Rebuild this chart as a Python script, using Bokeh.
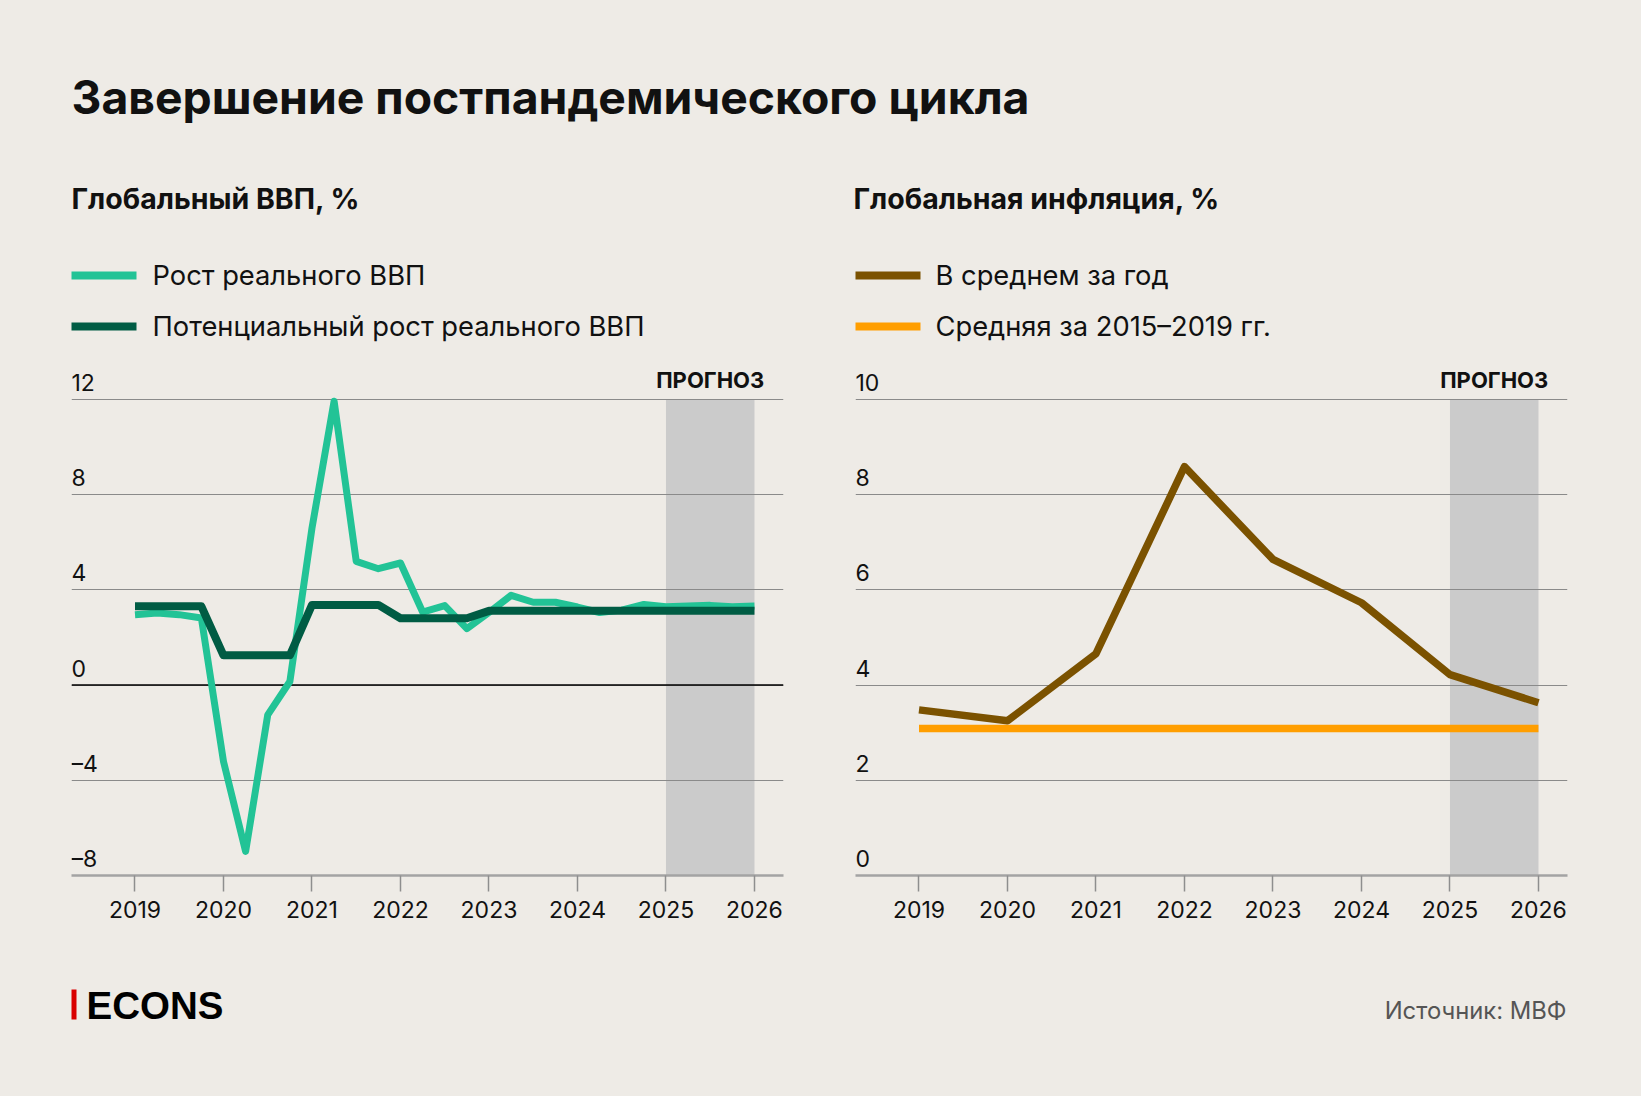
from bokeh.plotting import figure
from bokeh.models import Range1d, LabelSet, ColumnDataSource, FixedTicker, Span, Grid, BoxAnnotation
from bokeh.layouts import column, row
from bokeh.core.properties import value
from bokeh.embed import file_html
from bokeh.resources import INLINE

# ---------------- data ----------------
quarters = [2019 + i / 4 for i in range(29)]  # 2019Q1 ... 2026Q1
gdp_real = [2.96, 3.03, 2.96, 2.82, -3.21, -6.99, -1.25, 0.15,
            6.6, 11.93, 5.2, 4.89, 5.13, 3.07, 3.34, 2.37,
            3.05, 3.77, 3.48, 3.48, 3.28, 3.05, 3.15, 3.39,
            3.29, 3.32, 3.35, 3.29, 3.32]
gdp_potential = [3.31, 3.31, 3.31, 3.31, 1.25, 1.25, 1.25, 1.25,
                 3.37, 3.37, 3.37, 3.37, 2.81, 2.81, 2.81, 2.81,
                 3.12, 3.12, 3.12, 3.12, 3.12, 3.12, 3.12, 3.12,
                 3.12, 3.12, 3.12, 3.12, 3.12]

years = [2019, 2020, 2021, 2022, 2023, 2024, 2025, 2026]
inflation = [3.48, 3.25, 4.66, 8.59, 6.64, 5.73, 4.22, 3.63]
inflation_avg_2015_2019 = [3.09] * len(years)

forecast = [2025, 2026]
gdp_ticks = [-8, -4, 0, 4, 8, 12]
infl_ticks = [0, 2, 4, 6, 8, 10]

TITLE = "Завершение постпандемического цикла"
SUB_L = "Глобальный ВВП, %"
SUB_R = "Глобальная инфляция, %"
LEG_L = ["Рост реального ВВП", "Потенциальный рост реального ВВП"]
LEG_R = ["В среднем за год", "Средняя за 2015–2019 гг."]
FORECAST_LABEL = "ПРОГНОЗ"
SOURCE = "Источник: МВФ"

# ---------------- style ----------------
BG = "#EEEBE6"
C_REAL = "#22C396"
C_POT = "#005C44"
C_INFL = "#7B5200"
C_AVG = "#FF9E00"
C_SHADE = "#CBCBCB"
C_GRID = "#8A8A8A"
C_TEXT = "#111111"
FONT = "Inter"

W = 1641


def blank(width, top, bottom):
    # page-pixel coordinates, y stored as negative page y (so the range is not reversed)
    f = figure(width=width, height=bottom - top, x_range=Range1d(0, width),
               y_range=Range1d(-bottom, -top), output_backend="svg", toolbar_location=None,
               x_axis_location=None, y_axis_location=None,
               min_border_left=0, min_border_right=0, min_border_top=0, min_border_bottom=0)
    f.grid.visible = False
    f.outline_line_color = None
    f.background_fill_color = BG
    f.border_fill_color = BG
    return f


def txt(f, x, y, s, size, bold=False, align="left", color=C_TEXT, font=FONT):
    src = ColumnDataSource(dict(x=[x], y=[-y], t=[s]))
    f.add_layout(LabelSet(x="x", y="y", text="t", source=src, text_font=value(font),
                          text_font_size=size, text_font_style="bold" if bold else "normal",
                          text_align=align, text_baseline="alphabetic", text_color=color))


# ---------------- header ----------------
header = blank(W, 0, 350)
txt(header, 71, 113, TITLE, "46.3px", bold=True)
txt(header, 71, 208, SUB_L, "28.5px", bold=True)
txt(header, 853, 208, SUB_R, "28.5px", bold=True)
for (x0, tx, labels, colors) in [(71, 152, LEG_L, [C_REAL, C_POT]),
                                 (855, 935, LEG_R, [C_INFL, C_AVG])]:
    for i, (lab, col) in enumerate(zip(labels, colors)):
        yc = 275 + 51 * i
        header.segment(x0=[x0], x1=[x0 + 65], y0=[-yc], y1=[-yc], line_color=col, line_width=8)
        txt(header, tx, yc + 9, lab, "27.3px")


# ---------------- charts ----------------
TOP_PAD = 39  # px between frame top and the highest gridline


def chart(width, bl, br, ticks):
    lo, hi = ticks[0], ticks[-1]
    upp = (hi - lo) / 476.0
    p = figure(width=width, height=610, x_range=Range1d(2018.2825, 2026.328),
               y_range=Range1d(lo, hi + TOP_PAD * upp),
               output_backend="svg", toolbar_location=None, y_axis_location=None,
               min_border_left=bl, min_border_right=br, min_border_top=10, min_border_bottom=85)
    p.grid.visible = False
    p.outline_line_color = None
    p.background_fill_color = BG
    p.border_fill_color = BG
    p.add_layout(BoxAnnotation(left=forecast[0], right=forecast[1], bottom=lo, top=hi,
                               fill_color=C_SHADE, fill_alpha=1, line_color=None, level="image"))
    p.add_layout(Grid(dimension=1, ticker=FixedTicker(ticks=ticks), grid_line_color=C_GRID,
                      grid_line_width=1.2, level="underlay"))
    ax = p.xaxis[0]
    ax.ticker = FixedTicker(ticks=years)
    ax.axis_line_color = "#A3A3A3"
    ax.axis_line_width = 2.5
    ax.major_tick_line_color = "#8E8E8E"
    ax.major_tick_line_width = 1.5
    ax.major_tick_out = 16
    ax.major_tick_in = 0
    ax.minor_tick_line_color = None
    ax.major_label_standoff = 9
    ax.major_label_text_font = FONT
    ax.major_label_text_font_size = "23px"
    ax.major_label_text_color = C_TEXT
    src = ColumnDataSource(dict(y=ticks, text=[str(t).replace("-", "–") for t in ticks]))
    p.add_layout(LabelSet(x=p.x_range.start, y="y", text="text", source=src, y_offset=8.5,
                          text_font=value(FONT), text_font_size="23px", text_color=C_TEXT,
                          text_align="left", text_baseline="alphabetic"))
    fsrc = ColumnDataSource(dict(x=[(forecast[0] + forecast[1]) / 2], y=[hi], t=[FORECAST_LABEL]))
    p.add_layout(LabelSet(x="x", y="y", text="t", source=fsrc, y_offset=12,
                          text_font=value(FONT), text_font_size="22px", text_font_style="bold",
                          text_color=C_TEXT, text_align="center", text_baseline="alphabetic"))
    return p


left = chart(820, 71, 37, gdp_ticks)
left.add_layout(Span(location=0, dimension="width", line_color="#000000", line_width=1.5, level="underlay"))
left.line(quarters, gdp_real, line_color=C_REAL, line_width=7, line_join="round")
left.line(quarters, gdp_potential, line_color=C_POT, line_width=8, line_join="round")

right = chart(821, 35, 74, infl_ticks)
right.line(years, inflation_avg_2015_2019, line_color=C_AVG, line_width=7.5)
right.line(years, inflation, line_color=C_INFL, line_width=7.5, line_join="round")

# ---------------- footer ----------------
footer = blank(W, 960, 1096)
footer.quad(left=[71], right=[76], bottom=[-1019], top=[-989], fill_color="#D90000", line_color=None)
txt(footer, 86, 1018, "ECONS", "38.5px", bold=True, font="Liberation Sans", color="#000000")
txt(footer, 1566, 1018, SOURCE, "23.8px", align="right", color="#555555")

layout = column(header, row(left, right, spacing=0), footer, spacing=0)

html = file_html(layout, INLINE, title="Завершение постпандемического цикла")
html = html.replace("</head>", "<style>html,body{margin:0;padding:0;background:#EEEBE6;}</style></head>", 1)
with open("out.html", "w", encoding="utf-8") as fh:
    fh.write(html)
